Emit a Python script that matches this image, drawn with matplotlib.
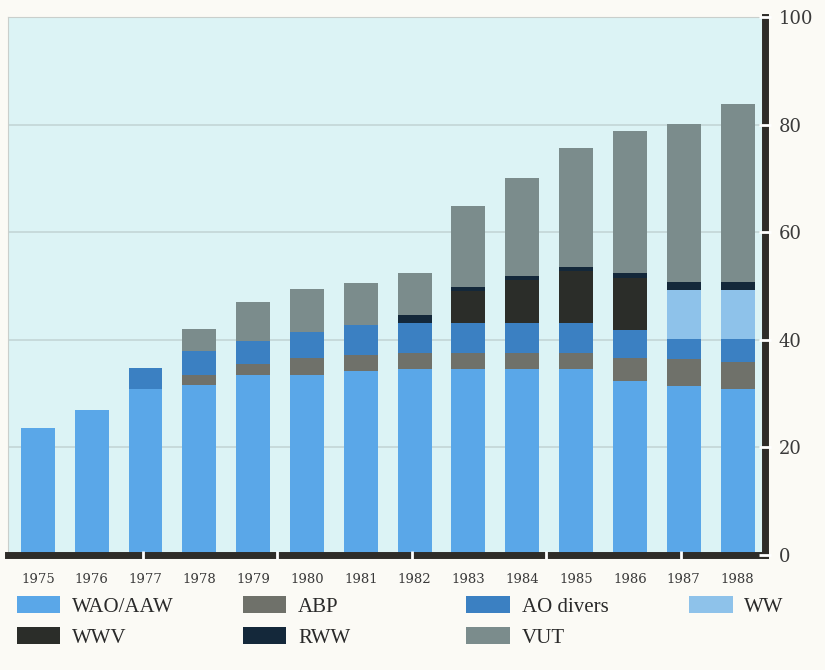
import numpy as np
import matplotlib.pyplot as plt
from matplotlib.patches import Patch

# data (stacked, bottom to top)
years = [str(y) for y in range(1975, 1989)]
wao = [23.7, 27.0, 30.8, 31.6, 33.5, 33.5, 34.2, 34.5, 34.5, 34.5, 34.5, 32.4, 31.5, 30.8]
abp = [0, 0, 0, 1.9, 2.0, 3.1, 3.0, 3.0, 3.0, 3.0, 3.0, 4.3, 4.9, 5.1]
ao_divers = [0, 0, 3.9, 4.5, 4.3, 4.9, 5.6, 5.6, 5.7, 5.7, 5.7, 5.1, 3.7, 4.2]
ww = [0, 0, 0, 0, 0, 0, 0, 0, 0, 0, 0, 0, 9.2, 9.2]
wwv = [0, 0, 0, 0, 0, 0, 0, 0, 5.9, 7.9, 9.5, 9.6, 0, 0]
rww = [0, 0, 0, 0, 0, 0, 0, 1.5, 0.8, 0.8, 0.9, 1.0, 1.4, 1.4]
vut = [0, 0, 0, 4.0, 7.2, 7.9, 7.7, 7.9, 15.0, 18.2, 22.0, 26.5, 29.4, 33.2]
yticks = [0, 20, 40, 60, 80, 100]

series = [
    ('WAO/AAW', wao, '#5aa7e8'),
    ('ABP', abp, '#6f716a'),
    ('AO divers', ao_divers, '#3b80c2'),
    ('WW', ww, '#8ec2ea'),
    ('WWV', wwv, '#2b2d29'),
    ('RWW', rww, '#14283a'),
    ('VUT', vut, '#7b8c8c'),
]

fig = plt.figure(figsize=(8.25, 6.7), dpi=100, facecolor='#fbfaf5')
ax = fig.add_axes([0.0097, 0.1716, 0.9176, 0.803])
ax.set_facecolor('#dcf3f5')

x = np.arange(len(years))
bottom = np.zeros(len(years))
for name, vals, col in series:
    vals = np.array(vals)
    ax.bar(x, vals, width=0.63, bottom=bottom, color=col, zorder=2)
    bottom += vals

ax.set_xlim(-0.554, 13.51)
ax.set_ylim(0, 100)

# gridlines behind the bars
for t in yticks[1:-1]:
    ax.axhline(t, color='#c3d6d6', lw=1.2, zorder=1)

# ticks drawn white on top of the heavy rules
ax.xaxis.set_zorder(3)
ax.yaxis.set_zorder(3)
ax.set_yticks(yticks)
ax.yaxis.tick_right()
ax.tick_params(axis='y', direction='inout', length=8, width=2, color='white',
               pad=6, labelsize=13, labelcolor='#3a3a3a')
for lab in ax.get_yticklabels():
    lab.set_fontfamily('DejaVu Serif')

ax.set_xticks(x)
ax.set_xticklabels(years, fontfamily='DejaVu Serif', fontsize=9.5, color='#3a3a3a')
ax.tick_params(axis='x', length=0, pad=13)
# white breaks in the bottom rule
ax.set_xticks(np.arange(1.95, 13, 2.5), minor=True)
ax.tick_params(axis='x', which='minor', direction='inout', length=6, width=2, color='white')

for side in ['bottom', 'right']:
    ax.spines[side].set_linewidth(5)
    ax.spines[side].set_color('#2e2c28')
    ax.spines[side].set_capstyle('projecting')
for side in ['top', 'left']:
    ax.spines[side].set_linewidth(0.8)
    ax.spines[side].set_color('#c9cfcc')

# legend: two rows, built column by column
handles = {name: Patch(facecolor=col, edgecolor='none') for name, _, col in series}
columns = [(['WAO/AAW', 'WWV'], 0.0), (['ABP', 'RWW'], 0.274),
           (['AO divers', 'VUT'], 0.545), (['WW'], 0.815)]
for names, xpos in columns:
    fig.legend([handles[n] for n in names], names, loc='upper left',
               bbox_to_anchor=(xpos, 0.135), frameon=False,
               prop={'family': 'Liberation Serif', 'size': 15},
               handlelength=2.1, handleheight=0.85, handletextpad=0.55,
               labelspacing=0.5, borderpad=0.3, labelcolor='#2a2a2a')

fig.savefig('out.png', dpi=100, facecolor=fig.get_facecolor())
